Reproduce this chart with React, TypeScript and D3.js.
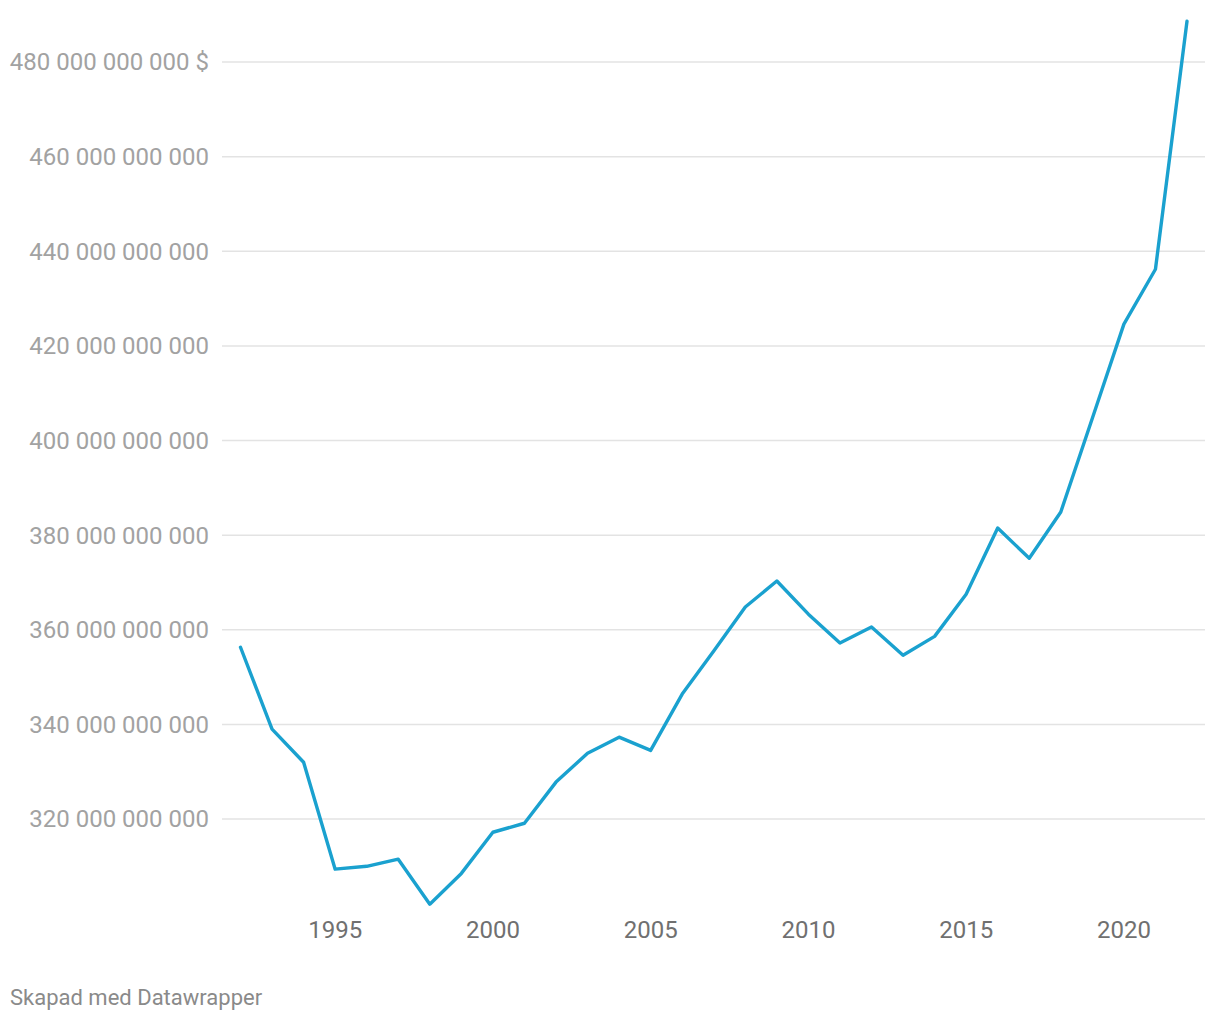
import { useEffect } from 'react';
import * as d3 from 'd3';

// yearly values, in billions of dollars
const years = d3.range(1992, 2023);
const values = [
  356.3, 339.0, 332.0, 309.4, 310.0, 311.5, 302.0, 308.5, 317.2, 319.1,
  327.8, 333.9, 337.3, 334.5, 346.4, 355.5, 364.8, 370.3, 363.3, 357.2,
  360.6, 354.6, 358.6, 367.5, 381.5, 375.1, 384.9, 404.7, 424.6, 436.2,
  488.6,
];
const yTicks = [320, 340, 360, 380, 400, 420, 440, 460, 480];
const xTicks = [1995, 2000, 2005, 2010, 2015, 2020];

const width = 1220;
const height = 1020;
const font = 'Roboto, "Noto Sans", sans-serif';

const fmt = (v: number) => `${v} 000 000 000`;

export default function App() {
  useEffect(() => {
    document.body.style.margin = '0';
  }, []);

  const x = d3.scaleLinear().domain([1992, 2022]).range([240.5, 1187]);
  const y = d3.scaleLinear().domain([320, 480]).range([819, 62]);

  const line = d3
    .line<number>()
    .x((_, i) => x(years[i]))
    .y((d) => y(d));

  return (
    <svg width={width} height={height} style={{ display: 'block', background: '#fff' }}>
      <g>
        {yTicks.map((t) => (
          <g key={t} transform={`translate(0,${y(t)})`}>
            <line x1={222} x2={1205} stroke="#e3e3e3" strokeWidth={1.5} />
            <text
              x={209}
              dy="0.35em"
              textAnchor="end"
              fontFamily={font}
              fontSize={24}
              fill="#a2a2a2"
            >
              {fmt(t) + (t === 480 ? ' $' : '')}
            </text>
          </g>
        ))}
      </g>
      <g>
        {xTicks.map((t) => (
          <text
            key={t}
            x={x(t)}
            y={930}
            dy="0.35em"
            textAnchor="middle"
            fontFamily={font}
            fontSize={24}
            fill="#707070"
          >
            {t}
          </text>
        ))}
      </g>
      <path
        d={line(values) || ''}
        fill="none"
        stroke="#1aa1cf"
        strokeWidth={3.4}
        strokeLinejoin="round"
        strokeLinecap="round"
      />
      <text x={10} y={997} dy="0.35em" fontFamily={font} fontSize={22} fill="#8a8a8a">
        Skapad med Datawrapper
      </text>
    </svg>
  );
}
